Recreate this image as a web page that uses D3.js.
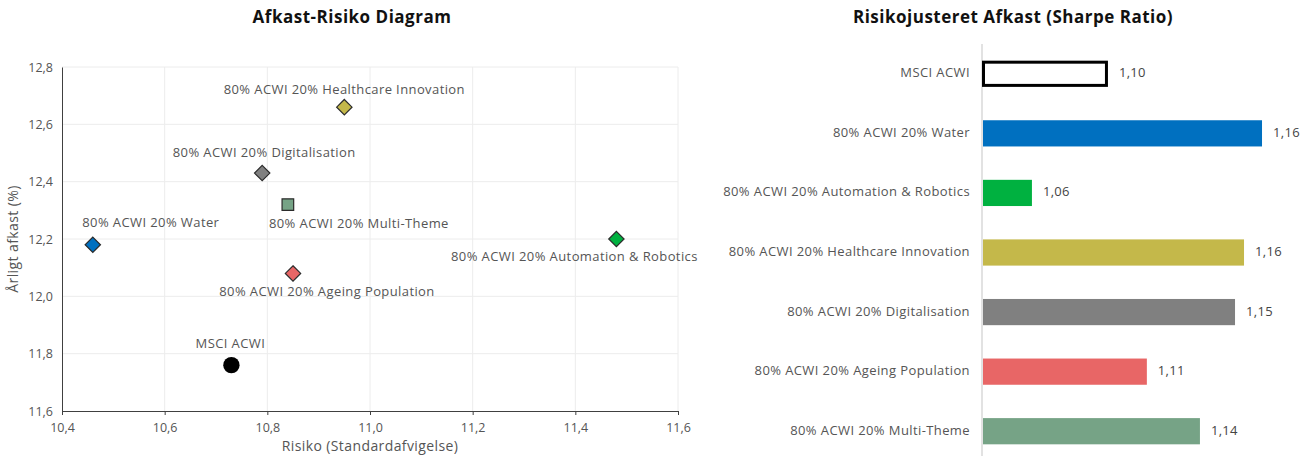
<!DOCTYPE html>
<html>
<head>
<meta charset="utf-8">
<script src="https://cdn.jsdelivr.net/npm/d3@7"></script>
<style>
    body { margin: 0; background: #fff; }
    text { font-family: "Open Sans", "Noto Sans", sans-serif; fill: #404040; }
    .title { font-weight: 700; font-size: 17px; letter-spacing: 0.5px; fill: #111; }
    .tick text { font-size: 12.5px; fill: #555; }
    .ptLabel { font-size: 13px; letter-spacing: 0.4px; fill: #555; }
    .axisTitle { font-size: 14px; letter-spacing: 0.4px; fill: #555; }
    .catLabel { font-size: 13px; letter-spacing: 0.4px; fill: #555; }
    .valLabel { font-size: 13px; letter-spacing: 0.3px; fill: #444; }
</style>
</head>
<body>
<div id="wrapper"></div>
<script>
// Daten
const scatterNames = ["80% ACWI 20% Healthcare Innovation", "80% ACWI 20% Digitalisation",
    "80% ACWI 20% Multi-Theme", "80% ACWI 20% Water", "80% ACWI 20% Automation & Robotics",
    "80% ACWI 20% Ageing Population", "MSCI ACWI"];
const risiko = [10.95, 10.79, 10.84, 10.46, 11.48, 10.85, 10.73];
const afkast = [12.66, 12.43, 12.32, 12.18, 12.20, 12.08, 11.76];
const xTicks = [10.4, 10.6, 10.8, 11.0, 11.2, 11.4, 11.6];
const yTicks = [11.6, 11.8, 12.0, 12.2, 12.4, 12.6, 12.8];

const barNames = ["MSCI ACWI", "80% ACWI 20% Water", "80% ACWI 20% Automation & Robotics",
    "80% ACWI 20% Healthcare Innovation", "80% ACWI 20% Digitalisation",
    "80% ACWI 20% Ageing Population", "80% ACWI 20% Multi-Theme"];
const sharpe = [1.0955, 1.164, 1.0617, 1.156, 1.152, 1.1128, 1.1364];

// Farben / Marker pro Serie
const farben = {
    "MSCI ACWI": "#000000",
    "80% ACWI 20% Water": "#0070c0",
    "80% ACWI 20% Automation & Robotics": "#00b140",
    "80% ACWI 20% Healthcare Innovation": "#c4b84a",
    "80% ACWI 20% Digitalisation": "#808080",
    "80% ACWI 20% Ageing Population": "#e86666",
    "80% ACWI 20% Multi-Theme": "#76a386"
};
const marker = {
    "MSCI ACWI": "circle",
    "80% ACWI 20% Multi-Theme": "square"
};
// Label-Position relativ zum Punkt: [dx, dy]
const labelOffset = {
    "80% ACWI 20% Healthcare Innovation": [0, -17],
    "80% ACWI 20% Digitalisation": [2, -20],
    "80% ACWI 20% Multi-Theme": [71, 20],
    "80% ACWI 20% Water": [58, -21],
    "80% ACWI 20% Automation & Robotics": [-42, 19],
    "80% ACWI 20% Ageing Population": [34, 19],
    "MSCI ACWI": [-1, -21]
};

const fmt = v => d3.format(".1f")(v).replace(".", ",");
const fmt2 = v => d3.format(".2f")(v).replace(".", ",");

const width = 1303;
const height = 456;

const svg = d3.select('#wrapper')
    .append('svg')
    .attr('width', width)
    .attr('height', height);

/// SCATTER ///////////////////////////////////////
const sc = { left: 62, right: 678, top: 67, bottom: 411 };

const x = d3.scaleLinear().domain([10.4, 11.6]).range([sc.left, sc.right]);
const y = d3.scaleLinear().domain([11.6, 12.8]).range([sc.bottom, sc.top]);

// Gitter
svg.append('g')
    .selectAll('line')
    .data(xTicks.slice(1))
    .join('line')
    .attr('x1', d => x(d)).attr('x2', d => x(d))
    .attr('y1', sc.top).attr('y2', sc.bottom)
    .style('stroke', '#ececec');

svg.append('g')
    .selectAll('line')
    .data(yTicks.slice(1))
    .join('line')
    .attr('x1', sc.left).attr('x2', sc.right)
    .attr('y1', d => y(d)).attr('y2', d => y(d))
    .style('stroke', '#ececec');

const xAxis = svg.append('g')
    .attr('transform', `translate(0, ${sc.bottom})`)
    .call(d3.axisBottom(x).tickValues(xTicks).tickFormat(fmt).tickSize(4).tickSizeOuter(4));
xAxis.select('.domain').style('stroke', '#404040');
xAxis.selectAll('.tick line').style('stroke', '#404040');
xAxis.selectAll('.tick text').attr('dy', '1.1em');

const yAxis = svg.append('g')
    .attr('transform', `translate(${sc.left}, 0)`)
    .call(d3.axisLeft(y).tickValues(yTicks).tickFormat(fmt).tickSize(0).tickPadding(9));
yAxis.select('.domain').style('stroke', '#404040');

svg.append('text')
    .attr('class', 'axisTitle')
    .attr('x', 370)
    .attr('y', 451)
    .attr('text-anchor', 'middle')
    .text('Risiko (Standardafvigelse)');

svg.append('text')
    .attr('class', 'axisTitle')
    .attr('transform', `translate(18, ${(sc.top + sc.bottom) / 2}) rotate(-90)`)
    .attr('text-anchor', 'middle')
    .text('Årligt afkast (%)');

svg.append('text')
    .attr('class', 'title')
    .attr('x', 352)
    .attr('y', 23)
    .attr('text-anchor', 'middle')
    .text('Afkast-Risiko Diagram');

const punkte = scatterNames.map((n, i) => ({ name: n, x: risiko[i], y: afkast[i] }));

const symbolTyp = n => marker[n] === 'circle' ? d3.symbolCircle
    : marker[n] === 'square' ? d3.symbolSquare : d3.symbolDiamond2;
const symbolSize = n => marker[n] === 'circle' ? 210 : marker[n] === 'square' ? 135 : 150;

svg.append('g')
    .selectAll('path')
    .data(punkte)
    .join('path')
    .attr('transform', d => `translate(${x(d.x)}, ${y(d.y)})`)
    .attr('d', d => d3.symbol().type(symbolTyp(d.name)).size(symbolSize(d.name))())
    .attr('fill', d => farben[d.name])
    .attr('stroke', d => marker[d.name] === 'circle' ? 'none' : '#2b2b2b')
    .attr('stroke-width', 1.2);

svg.append('g')
    .selectAll('text')
    .data(punkte)
    .join('text')
    .attr('class', 'ptLabel')
    .attr('x', d => x(d.x) + labelOffset[d.name][0])
    .attr('y', d => y(d.y) + labelOffset[d.name][1])
    .attr('text-anchor', 'middle')
    .attr('dominant-baseline', 'middle')
    .text(d => d.name);

/// BALKEN ////////////////////////////////////////
const bc = { left: 982, top: 44, bottom: 461 };

const bx = d3.scaleLinear().domain([1.0395, 1.18]).range([bc.left, bc.left + 316]);
const by = d3.scaleBand().domain(barNames).range([bc.top, bc.bottom]).paddingInner(0.56).paddingOuter(0.28);

const balken = barNames.map((n, i) => ({ name: n, v: sharpe[i] }));

svg.append('line')
    .attr('x1', bc.left).attr('x2', bc.left)
    .attr('y1', bc.top).attr('y2', height)
    .style('stroke', '#d9d9d9')
    .style('stroke-width', 1.5);

svg.append('g')
    .selectAll('rect')
    .data(balken)
    .join('rect')
    .attr('x', d => d.name === 'MSCI ACWI' ? bc.left + 1.5 : bc.left + 1)
    .attr('y', d => d.name === 'MSCI ACWI' ? by(d.name) + 1.5 : by(d.name))
    .attr('width', d => d.name === 'MSCI ACWI' ? bx(d.v) - bc.left - 3 : bx(d.v) - bc.left - 1)
    .attr('height', d => d.name === 'MSCI ACWI' ? by.bandwidth() - 3 : by.bandwidth())
    .attr('fill', d => d.name === 'MSCI ACWI' ? '#ffffff' : farben[d.name])
    .attr('stroke', d => d.name === 'MSCI ACWI' ? '#000' : 'none')
    .attr('stroke-width', 3);

svg.append('g')
    .selectAll('text')
    .data(balken)
    .join('text')
    .attr('class', 'valLabel')
    .attr('x', d => bx(d.v) + 11)
    .attr('y', d => by(d.name) + by.bandwidth() / 2)
    .attr('dominant-baseline', 'middle')
    .text(d => fmt2(d.v));

svg.append('g')
    .selectAll('text')
    .data(balken)
    .join('text')
    .attr('class', 'catLabel')
    .attr('x', bc.left - 12)
    .attr('y', d => by(d.name) + by.bandwidth() / 2)
    .attr('text-anchor', 'end')
    .attr('dominant-baseline', 'middle')
    .text(d => d.name);

svg.append('text')
    .attr('class', 'title')
    .attr('x', 1013)
    .attr('y', 23)
    .attr('text-anchor', 'middle')
    .text('Risikojusteret Afkast (Sharpe Ratio)');
</script>
</body>
</html>
